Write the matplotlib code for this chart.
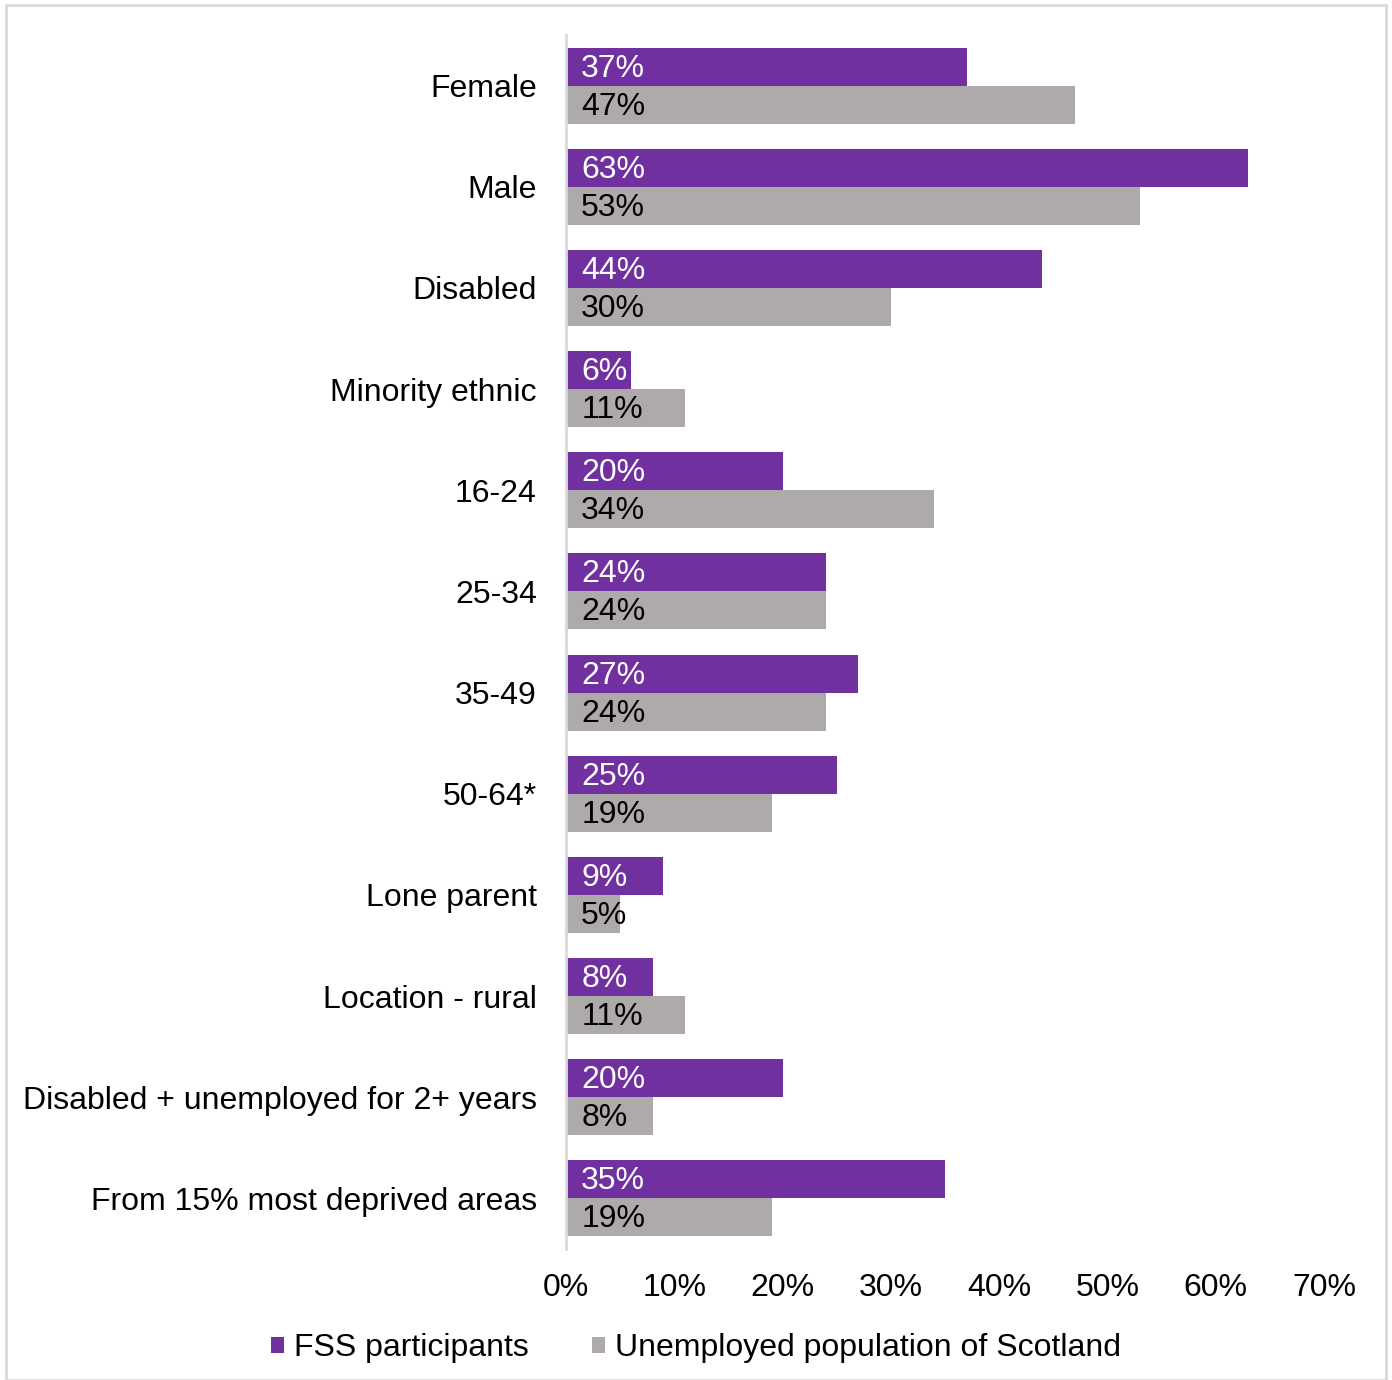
import numpy as np
import matplotlib.pyplot as plt
from matplotlib.patches import Rectangle
from matplotlib.ticker import PercentFormatter

plt.rcParams['font.family'] = ['Liberation Sans', 'DejaVu Sans']

# === Data ===
categories = [
    'Female', 'Male', 'Disabled', 'Minority ethnic', '16-24', '25-34',
    '35-49', '50-64*', 'Lone parent', 'Location - rural',
    'Disabled + unemployed for 2+ years', 'From 15% most deprived areas'
]
fss = [37, 63, 44, 6, 20, 24, 27, 25, 9, 8, 20, 35]
scotland = [47, 53, 30, 11, 34, 24, 24, 19, 5, 11, 8, 19]
x_ticks = [0, 10, 20, 30, 40, 50, 60, 70]

purple = '#7030A0'
grey = '#AEAAAA'
fs = 23

fig = plt.figure(figsize=(13.92, 13.8), dpi=100)
# outer chart frame
fig.patches.append(Rectangle((6 / 1392, 0), 1380 / 1392, 1 - 5 / 1380,
                             transform=fig.transFigure, fill=False,
                             edgecolor='#D9D9D9', linewidth=2))

ax = fig.add_axes([566 / 1392, 1 - 1249 / 1380, (1324 - 566) / 1392, (1249 - 35) / 1380])

y = np.arange(len(categories))
h = 0.375
ax.barh(y - h / 2, fss, height=h, color=purple, label='FSS participants')
ax.barh(y + h / 2, scotland, height=h, color=grey, label='Unemployed population of Scotland')

# value labels at the start of each bar
for yi, v in zip(y, fss):
    ax.text(1.4, yi - h / 2 + 0.02, f'{v}%', color='white', fontsize=fs, va='center', ha='left')
for yi, v in zip(y, scotland):
    ax.text(1.4, yi + h / 2 + 0.02, f'{v}%', color='black', fontsize=fs, va='center', ha='left')

ax.set_xlim(0, 70)
ax.set_ylim(len(categories) - 0.5, -0.5)
ax.set_xticks(x_ticks)
ax.xaxis.set_major_formatter(PercentFormatter(decimals=0))
ax.set_yticks(y)
ax.set_yticklabels(categories)
ax.tick_params(axis='both', length=0, labelsize=fs)
ax.tick_params(axis='y', pad=21)
ax.tick_params(axis='x', pad=17)
for s in ['top', 'right', 'bottom']:
    ax.spines[s].set_visible(False)
ax.spines['left'].set_color('#D9D9D9')
ax.spines['left'].set_linewidth(2)

fig.legend(loc='center', bbox_to_anchor=(0.5, 1 - 1348 / 1380), ncol=2, frameon=False,
           fontsize=fs, handlelength=0.4, handleheight=0.4, columnspacing=2.0,
           handletextpad=0.3)

plt.savefig('out.png', dpi=100)
